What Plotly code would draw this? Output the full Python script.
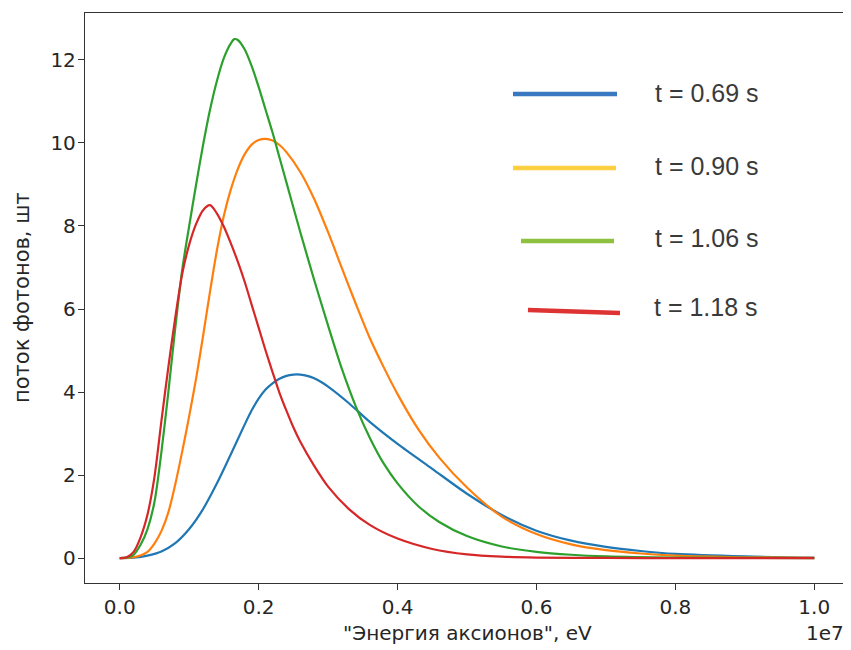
import plotly.graph_objects as go

# ---- data (energy in units of 1e7 eV, flux in photons) ----
blue_x = [0, 0.02, 0.04, 0.06, 0.08, 0.10, 0.12, 0.14, 0.16, 0.18, 0.19, 0.20, 0.21, 0.22, 0.23,
          0.24, 0.25, 0.26, 0.27, 0.28, 0.29, 0.30, 0.33, 0.36, 0.40, 0.45, 0.50, 0.55, 0.60,
          0.65, 0.70, 0.75, 0.80, 0.90, 1.00]
blue_y = [0, 0.01, 0.06, 0.16, 0.36, 0.70, 1.18, 1.80, 2.50, 3.22, 3.56, 3.84, 4.06, 4.21, 4.32,
          4.39, 4.42, 4.42, 4.39, 4.33, 4.24, 4.13, 3.73, 3.28, 2.75, 2.15, 1.55, 1.04, 0.66,
          0.42, 0.27, 0.17, 0.10, 0.04, 0.01]

orange_x = [0, 0.02, 0.04, 0.05, 0.06, 0.07, 0.08, 0.09, 0.10, 0.11, 0.12, 0.13, 0.14, 0.15, 0.16,
            0.17, 0.18, 0.19, 0.20, 0.21, 0.22, 0.23, 0.24, 0.26, 0.28, 0.30, 0.32, 0.34, 0.36,
            0.38, 0.40, 0.43, 0.46, 0.50, 0.55, 0.60, 0.65, 0.70, 0.75, 0.80, 0.90, 1.00]
orange_y = [0, 0.02, 0.15, 0.35, 0.65, 1.10, 1.78, 2.57, 3.42, 4.33, 5.35, 6.42, 7.42, 8.25, 8.88,
            9.37, 9.73, 9.96, 10.07, 10.10, 10.06, 9.95, 9.78, 9.30, 8.65, 7.85, 6.98, 6.12, 5.30,
            4.60, 3.95, 3.10, 2.42, 1.70, 1.00, 0.58, 0.33, 0.19, 0.11, 0.06, 0.02, 0.005]

green_x = [0, 0.01, 0.02, 0.03, 0.04, 0.05, 0.06, 0.07, 0.08, 0.09, 0.10, 0.11, 0.12, 0.13, 0.14,
           0.15, 0.16, 0.165, 0.17, 0.18, 0.19, 0.20, 0.21, 0.22, 0.23, 0.24, 0.26, 0.28, 0.30,
           0.32, 0.34, 0.36, 0.38, 0.40, 0.43, 0.46, 0.50, 0.55, 0.60, 0.65, 0.70, 0.80, 1.00]
green_y = [0, 0.01, 0.08, 0.32, 0.70, 1.35, 2.55, 4.00, 5.55, 6.95, 8.00, 9.00, 9.95, 10.80, 11.50,
           12.05, 12.40, 12.50, 12.48, 12.25, 11.85, 11.35, 10.80, 10.25, 9.65, 9.05, 7.85, 6.70, 5.60,
           4.55, 3.65, 2.90, 2.28, 1.80, 1.25, 0.87, 0.53, 0.28, 0.15, 0.08, 0.04, 0.01, 0]

red_x = [0, 0.01, 0.02, 0.03, 0.04, 0.05, 0.06, 0.07, 0.08, 0.09, 0.10, 0.11, 0.12, 0.13, 0.14,
         0.15, 0.16, 0.17, 0.18, 0.19, 0.20, 0.21, 0.22, 0.23, 0.24, 0.25, 0.26, 0.28, 0.30,
         0.33, 0.36, 0.40, 0.45, 0.50, 0.55, 0.60, 0.70, 0.80, 1.00]
red_y = [0, 0.02, 0.15, 0.50, 1.05, 1.95, 3.30, 4.60, 5.80, 6.85, 7.55, 8.05, 8.38, 8.50, 8.30,
         7.98, 7.58, 7.14, 6.65, 6.10, 5.55, 5.00, 4.48, 3.98, 3.55, 3.15, 2.80, 2.22, 1.72,
         1.18, 0.80, 0.47, 0.22, 0.09, 0.035, 0.013, 0.004, 0, 0]

series_x = [blue_x, orange_x, green_x, red_x]
series_y = [blue_y, orange_y, green_y, red_y]
line_colors = ["#1f77b4", "#ff7f0e", "#2ca02c", "#d62728"]

legend_labels = ["t = 0.69 s", "t = 0.90 s", "t = 1.06 s", "t = 1.18 s"]
legend_colors = ["#3a78c2", "#fbcf3f", "#8dc13f", "#dd3333"]

x_tick_vals = [0.0, 0.2, 0.4, 0.6, 0.8, 1.0]
x_tick_text = ["0.0", "0.2", "0.4", "0.6", "0.8", "1.0"]
y_tick_vals = [0, 2, 4, 6, 8, 10, 12]

SCALE = 1e7

# page has an 8px body margin; figure sized/placed to compensate
OFF = 8
W, H = 843, 642
ML, MR, MT, MB = 77, 2, 5, 67
PW = W - ML - MR
PH = H - MT - MB


def px(x):
    return (x - OFF - ML) / PW


def py(y):
    return (H - MB - (y - OFF)) / PH


fig = go.Figure()
for xs, ys, c in zip(series_x, series_y, line_colors):
    fig.add_trace(go.Scatter(
        x=[v * SCALE for v in xs], y=ys, mode="lines",
        line=dict(color=c, width=2.2, shape="spline", smoothing=0.8),
        showlegend=False, hoverinfo="skip"))

# hand-drawn style legend
leg_lines = [(513, 617, 94, 94), (513, 616, 168, 168), (521, 614, 241, 241), (528, 620, 310, 313)]
leg_text_pos = [(653, 93), (653, 166), (653, 238), (652, 307)]
shapes = []
annotations = []
for (x0, x1, y0, y1), c, lab, (tx, ty) in zip(leg_lines, legend_colors, legend_labels, leg_text_pos):
    shapes.append(dict(type="line", xref="paper", yref="paper",
                       x0=px(x0), x1=px(x1), y0=py(y0), y1=py(y1),
                       line=dict(color=c, width=4.5)))
    annotations.append(dict(xref="paper", yref="paper", x=px(tx), y=py(ty),
                            xanchor="left", yanchor="middle", showarrow=False,
                            text=lab, font=dict(family="Liberation Sans, Arial", size=25, color="#3a3a3a")))

annotations.append(dict(xref="paper", yref="paper", x=0.5, y=0, yshift=-50,
                        xanchor="center", yanchor="middle", showarrow=False,
                        text='"Энергия аксионов", eV',
                        font=dict(family="DejaVu Sans", size=20, color="#262626")))
annotations.append(dict(xref="paper", yref="paper", x=1, y=0, yshift=-50, xshift=-3,
                        xanchor="right", yanchor="middle", showarrow=False,
                        text="1e7", font=dict(family="DejaVu Sans", size=20, color="#262626")))
annotations.append(dict(xref="paper", yref="paper", x=0, y=0.5, xshift=-63,
                        xanchor="center", yanchor="middle", showarrow=False, textangle=-90,
                        text="поток фотонов, шт",
                        font=dict(family="DejaVu Sans", size=21, color="#262626")))

axis_common = dict(showgrid=False, zeroline=False, showline=True, mirror=True,
                   linecolor="#333333", linewidth=1.3, ticks="outside", ticklen=6,
                   tickcolor="#333333", tickwidth=1.2,
                   tickfont=dict(family="DejaVu Sans", size=20, color="#262626"))

fig.update_layout(
    width=W, height=H,
    margin=dict(l=ML, r=MR, t=MT, b=MB),
    paper_bgcolor="white", plot_bgcolor="white",
    xaxis=dict(range=[-0.05 * SCALE, 1.05 * SCALE],
               tickvals=[v * SCALE for v in x_tick_vals], ticktext=x_tick_text, **axis_common),
    yaxis=dict(range=[-0.6, 13.13], tickvals=y_tick_vals, ticklabelstandoff=-2, **axis_common),
    shapes=shapes, annotations=annotations,
)

fig.write_html("out.html")
